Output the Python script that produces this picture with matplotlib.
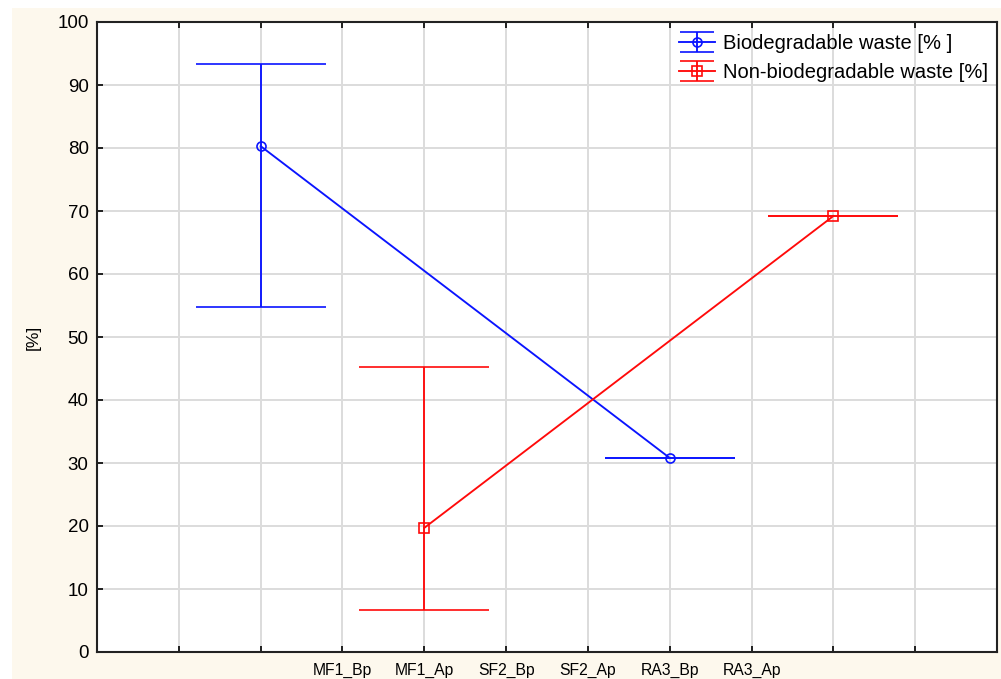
import numpy as np
import matplotlib.pyplot as plt
from matplotlib.patches import Rectangle

plt.rcParams['font.family'] = ['Liberation Sans', 'DejaVu Sans']

# category slots on the x axis (Statistica-style layout)
tick_pos = [1, 2, 3, 4, 5, 6, 7, 8, 9, 10]
tick_labels = ['', '', 'MF1_Bp', 'MF1_Ap', 'SF2_Bp', 'SF2_Ap', 'RA3_Bp', 'RA3_Ap', '', '']

# biodegradable waste [%]
bio_x = [2, 7]
bio_mean = [80.3, 30.8]
bio_low = [54.7, 30.8]
bio_high = [93.3, 30.8]

# non-biodegradable waste [%]
non_x = [4, 9]
non_mean = [19.7, 69.2]
non_low = [6.7, 69.2]
non_high = [45.3, 69.2]

fig = plt.figure(figsize=(10.01, 6.79), dpi=100, facecolor='white')
fig.patches.append(Rectangle((12 / 1001, 0), 1, 1 - 8 / 679, transform=fig.transFigure,
                             facecolor='#fdf8ed', edgecolor='none', zorder=-10))
ax = fig.add_axes([97 / 1001, 1 - 652 / 679, 900 / 1001, 630 / 679])
ax.set_facecolor('white')

def draw(x, mean, low, high, color, marker, label):
    mean = np.array(mean)
    yerr = [mean - np.array(low), np.array(high) - mean]
    ax.errorbar(x, mean, yerr=yerr, color=color, lw=1.35, elinewidth=1.35,
                capsize=47, capthick=1.5, marker=marker, ms=6.5,
                mfc='none', mec=color, mew=1.2, zorder=3)
    # proxy with small caps just for the legend
    h = ax.errorbar([np.nan], [np.nan], yerr=[[1], [1]], color=color, lw=1.35,
                    elinewidth=1.35, capsize=12.5, capthick=1.5, marker=marker, ms=6.5,
                    mfc='none', mec=color, mew=1.2, label=label)
    return h

h1 = draw(bio_x, bio_mean, bio_low, bio_high, '#0a14ff', 'o', 'Biodegradable waste [% ]')
h2 = draw(non_x, non_mean, non_low, non_high, '#ff0a0a', 's', 'Non-biodegradable waste [%]')

ax.set_xlim(0, 11)
ax.set_ylim(0, 100)
ax.set_xticks(tick_pos)
ax.set_xticklabels(tick_labels, fontsize=11.3)
ax.set_yticks(np.arange(0, 101, 10))
ax.tick_params(axis='y', labelsize=13.5, direction='in', length=4, width=1.2, pad=6)
ax.tick_params(axis='x', direction='in', length=4, width=1.2, pad=8, top=True)
ax.grid(True, color='#dcdcdc', lw=1.4, zorder=0)
ax.set_axisbelow(True)
for s in ax.spines.values():
    s.set_linewidth(1.5)
    s.set_color('#222222')
ax.set_ylabel('[%]', fontsize=12.5, labelpad=12)

ax.legend(handles=[h1, h2], loc='upper right', bbox_to_anchor=(1.0 + 6 / 900, 1.0 + 3 / 630),
          frameon=False, fontsize=14.5, handlelength=1.8, labelspacing=0.5,
          handletextpad=0.4, borderaxespad=0.35)

fig.savefig('out.png', dpi=100, facecolor=fig.get_facecolor())
